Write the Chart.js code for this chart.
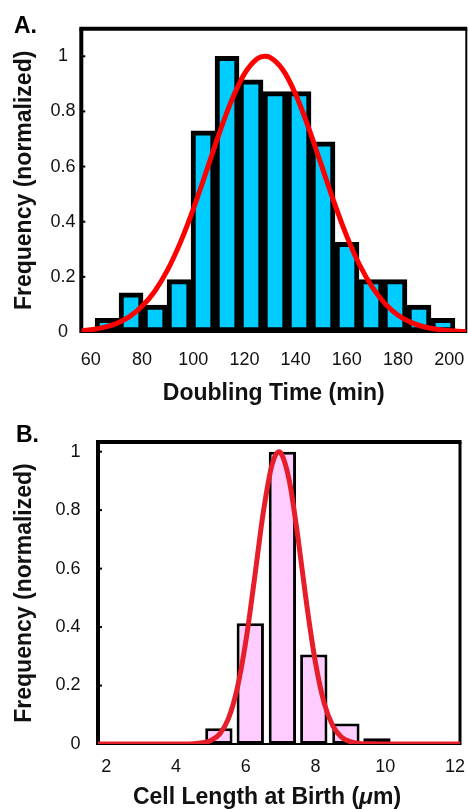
<!DOCTYPE html>
<html>
<head>
<meta charset="utf-8">
<script src="https://cdn.jsdelivr.net/npm/chart.js@4.4.1/dist/chart.umd.min.js"></script>
<style>
  html, body { margin: 0; padding: 0; background: #fff; }
  #wrap { position: relative; width: 468px; height: 809px; overflow: hidden; }
  canvas { position: absolute; left: 0; }
  #chartA { top: 0; }
  #chartB { top: 412px; }
</style>
</head>
<body>
<div id="wrap">
  <canvas id="chartA" width="468" height="412"></canvas>
  <canvas id="chartB" width="468" height="397"></canvas>
</div>
<script>
// Panel A: doubling time histogram + fitted curve
const doublingBins = [66.36, 75.73, 85.10, 94.47, 103.84, 113.21, 122.58, 131.95, 141.32, 150.69, 160.06, 169.43, 178.80, 188.17, 197.54];
const doublingFreq = [0.05, 0.142, 0.098, 0.19, 0.73, 1.0, 0.915, 0.872, 0.872, 0.69, 0.325, 0.19, 0.19, 0.098, 0.05];
const doublingFitX = [56.3, 60, 65, 70, 75, 80, 85, 90, 95, 100, 105, 110, 115, 120, 125, 128, 130, 135, 140, 145, 150, 155, 160, 165, 170, 175, 180, 185, 190, 195, 200, 205, 206.65];
const doublingFitY = [0.005, 0.008, 0.017, 0.031, 0.055, 0.093, 0.148, 0.225, 0.325, 0.445, 0.579, 0.716, 0.84, 0.936, 0.991, 1.0, 0.996, 0.951, 0.862, 0.742, 0.607, 0.471, 0.347, 0.243, 0.162, 0.102, 0.061, 0.035, 0.019, 0.01, 0.005, 0.002, 0.002];
const doublingTicks = [60, 80, 100, 120, 140, 160, 180, 200];

// Panel B: cell length at birth histogram + fitted curve
const lengthBins = [5.23, 6.13, 7.05, 7.95, 8.87, 9.76, 10.65, 11.54];
const lengthFreq = [0.054, 0.413, 1.0, 0.306, 0.07, 0.02, 0.007, 0.007];
const lengthFitX = [1.766, 4.0, 4.5, 4.75, 5.0, 5.25, 5.5, 5.75, 6.0, 6.25, 6.5, 6.75, 6.95, 7.0, 7.25, 7.5, 7.75, 8.0, 8.25, 8.5, 8.75, 9.0, 9.25, 9.5, 10.0, 12.14];
const lengthFitY = [0, 0, 0.001, 0.004, 0.012, 0.034, 0.086, 0.187, 0.349, 0.565, 0.79, 0.954, 1.0, 0.997, 0.9, 0.703, 0.474, 0.277, 0.139, 0.061, 0.023, 0.008, 0.002, 0.001, 0, 0];
const lengthTicks = [2, 4, 6, 8, 10, 12];

const freqTicks = [0, 0.2, 0.4, 0.6, 0.8, 1];

const FONT = '"Liberation Sans", Arial, Helvetica, sans-serif';
const TEXT = '#111';

// box around plot area, inward y ticks, panel letter, optional rich x title
const framePlugin = {
  id: 'frame',
  beforeDatasetsDraw(chart, args, o) {
    const { ctx, chartArea: a, scales } = chart;
    ctx.save();
    ctx.strokeStyle = '#000';
    ctx.lineCap = 'butt';
    ctx.lineWidth = 2;
    scales.y.ticks.forEach(t => {
      const y = scales.y.getPixelForValue(t.value);
      ctx.beginPath();
      ctx.moveTo(a.left, y);
      ctx.lineTo(a.left + o.tick, y);
      ctx.stroke();
    });
    const seg = (w, x1, y1, x2, y2) => {
      ctx.lineWidth = w;
      ctx.beginPath();
      ctx.moveTo(x1, y1);
      ctx.lineTo(x2, y2);
      ctx.stroke();
    };
    seg(o.bottom, a.left, a.bottom, a.right, a.bottom);
    seg(o.top, a.left - o.left / 2, a.top, a.right + o.right / 2, a.top);
    seg(o.left, a.left, a.top, a.left, a.bottom + 1);
    seg(o.right, a.right, a.top, a.right, a.bottom + 1);
    ctx.restore();
  },
  afterDraw(chart, args, o) {
    const { ctx } = chart;
    ctx.save();
    ctx.fillStyle = '#000';
    ctx.font = 'bold 23px ' + FONT;
    ctx.textBaseline = 'alphabetic';
    ctx.textAlign = 'left';
    ctx.fillText(o.label, o.labelX, o.labelY);
    if (o.xTitle) {
      const parts = o.xTitle.parts.map(p => ({
        text: p[0],
        font: (p[1] ? 'italic ' : '') + 'bold 23px ' + FONT
      }));
      let total = 0;
      parts.forEach(p => { ctx.font = p.font; p.w = ctx.measureText(p.text).width; total += p.w; });
      let x = o.xTitle.x - total / 2;
      ctx.fillStyle = TEXT;
      ctx.textBaseline = 'middle';
      parts.forEach(p => { ctx.font = p.font; ctx.fillText(p.text, x, o.xTitle.y); x += p.w; });
    }
    ctx.restore();
  }
};

const noPad = s => { s.paddingLeft = 0; s.paddingRight = 0; s.paddingTop = 0; s.paddingBottom = 0; };

function makeChart(id, cfg) {
  return new Chart(document.getElementById(id), {
    type: 'bar',
    data: {
      datasets: [
        {
          type: 'line',
          data: cfg.fitX.map((x, i) => ({ x: x, y: cfg.fitY[i] })),
          borderColor: cfg.lineColor,
          borderWidth: 5,
          pointRadius: 0,
          cubicInterpolationMode: 'monotone',
          fill: false,
          order: 0
        },
        {
          data: cfg.bins.map((x, i) => ({ x: x, y: cfg.freq[i] })),
          backgroundColor: cfg.barColor,
          borderColor: '#000',
          borderWidth: cfg.barBorder,
          borderSkipped: false,
          barPercentage: cfg.barPct,
          categoryPercentage: 1,
          order: 1
        }
      ]
    },
    options: {
      responsive: false,
      animation: false,
      devicePixelRatio: 1,
      layout: { padding: cfg.padding },
      plugins: {
        legend: { display: false },
        tooltip: { enabled: false },
        frame: cfg.frame
      },
      scales: {
        x: {
          type: 'linear',
          min: cfg.xMin,
          max: cfg.xMax,
          offset: false,
          grid: { display: false, drawTicks: false, offset: false },
          border: { display: false },
          afterBuildTicks: s => { s.ticks = cfg.xTicks.map(v => ({ value: v })); },
          afterFit: s => { s.height = cfg.xHeight; noPad(s); },
          ticks: {
            autoSkip: false,
            maxRotation: 0,
            padding: cfg.xTickPad,
            color: TEXT,
            font: { family: FONT, size: 18 },
            callback: v => String(v)
          },
          title: cfg.xTitle ? {
            display: true,
            text: cfg.xTitle,
            color: TEXT,
            font: { family: FONT, size: 23, weight: 'bold' },
            padding: { top: 0, bottom: cfg.xTitlePad }
          } : { display: false }
        },
        y: {
          min: 0,
          max: cfg.yMax,
          grid: { display: false, drawTicks: false },
          border: { display: false },
          afterBuildTicks: s => { s.ticks = freqTicks.map(v => ({ value: v })); },
          afterFit: s => { s.width = cfg.yWidth; noPad(s); },
          ticks: {
            crossAlign: cfg.yAlign,
            padding: cfg.yTickPad,
            color: TEXT,
            font: { family: FONT, size: 18 },
            callback: v => String(+v.toFixed(2))
          },
          title: {
            display: true,
            text: 'Frequency (normalized)',
            color: TEXT,
            font: { family: FONT, size: 23, weight: 'bold' },
            padding: { top: cfg.yTitlePad, bottom: 0 }
          }
        }
      }
    },
    plugins: [framePlugin]
  });
}

makeChart('chartA', {
  bins: doublingBins, freq: doublingFreq,
  fitX: doublingFitX, fitY: doublingFitY,
  xTicks: doublingTicks,
  xMin: 56.3, xMax: 206.65, yMax: 1.1,
  barColor: '#00CCFF', barBorder: 5, barPct: 1,
  lineColor: '#FF0000',
  padding: { left: 0, top: 28.7, right: 1.7, bottom: 0 },
  xHeight: 80, yWidth: 81.3,
  xTickPad: 17, yTickPad: 5.8, yAlign: 'center',
  xTitle: 'Doubling Time (min)', xTitlePad: 5,
  yTitlePad: 11.2,
  frame: { left: 4, top: 4, right: 2, bottom: 2, tick: 4, label: 'A.', labelX: 14, labelY: 33 }
});

makeChart('chartB', {
  bins: lengthBins, freq: lengthFreq,
  fitX: lengthFitX, fitY: lengthFitY,
  xTicks: lengthTicks,
  xMin: 1.766, xMax: 12.14, yMax: 1.033,
  barColor: '#FFCCFF', barBorder: 3, barPct: 0.88,
  lineColor: '#E61E2A',
  padding: { left: 0, top: 30, right: 8, bottom: 0 },
  xHeight: 65, yWidth: 98,
  xTickPad: 12.7, yTickPad: 17.5, yAlign: 'near',
  xTitle: null,
  yTitlePad: 10.7,
  frame: {
    left: 4, top: 4, right: 3, bottom: 2, tick: 4, label: 'B.', labelX: 16, labelY: 30,
    xTitle: { parts: [['Cell Length at Birth (', false], ['μ', true], ['m)', false]], x: 267, y: 386 }
  }
});
</script>
</body>
</html>
